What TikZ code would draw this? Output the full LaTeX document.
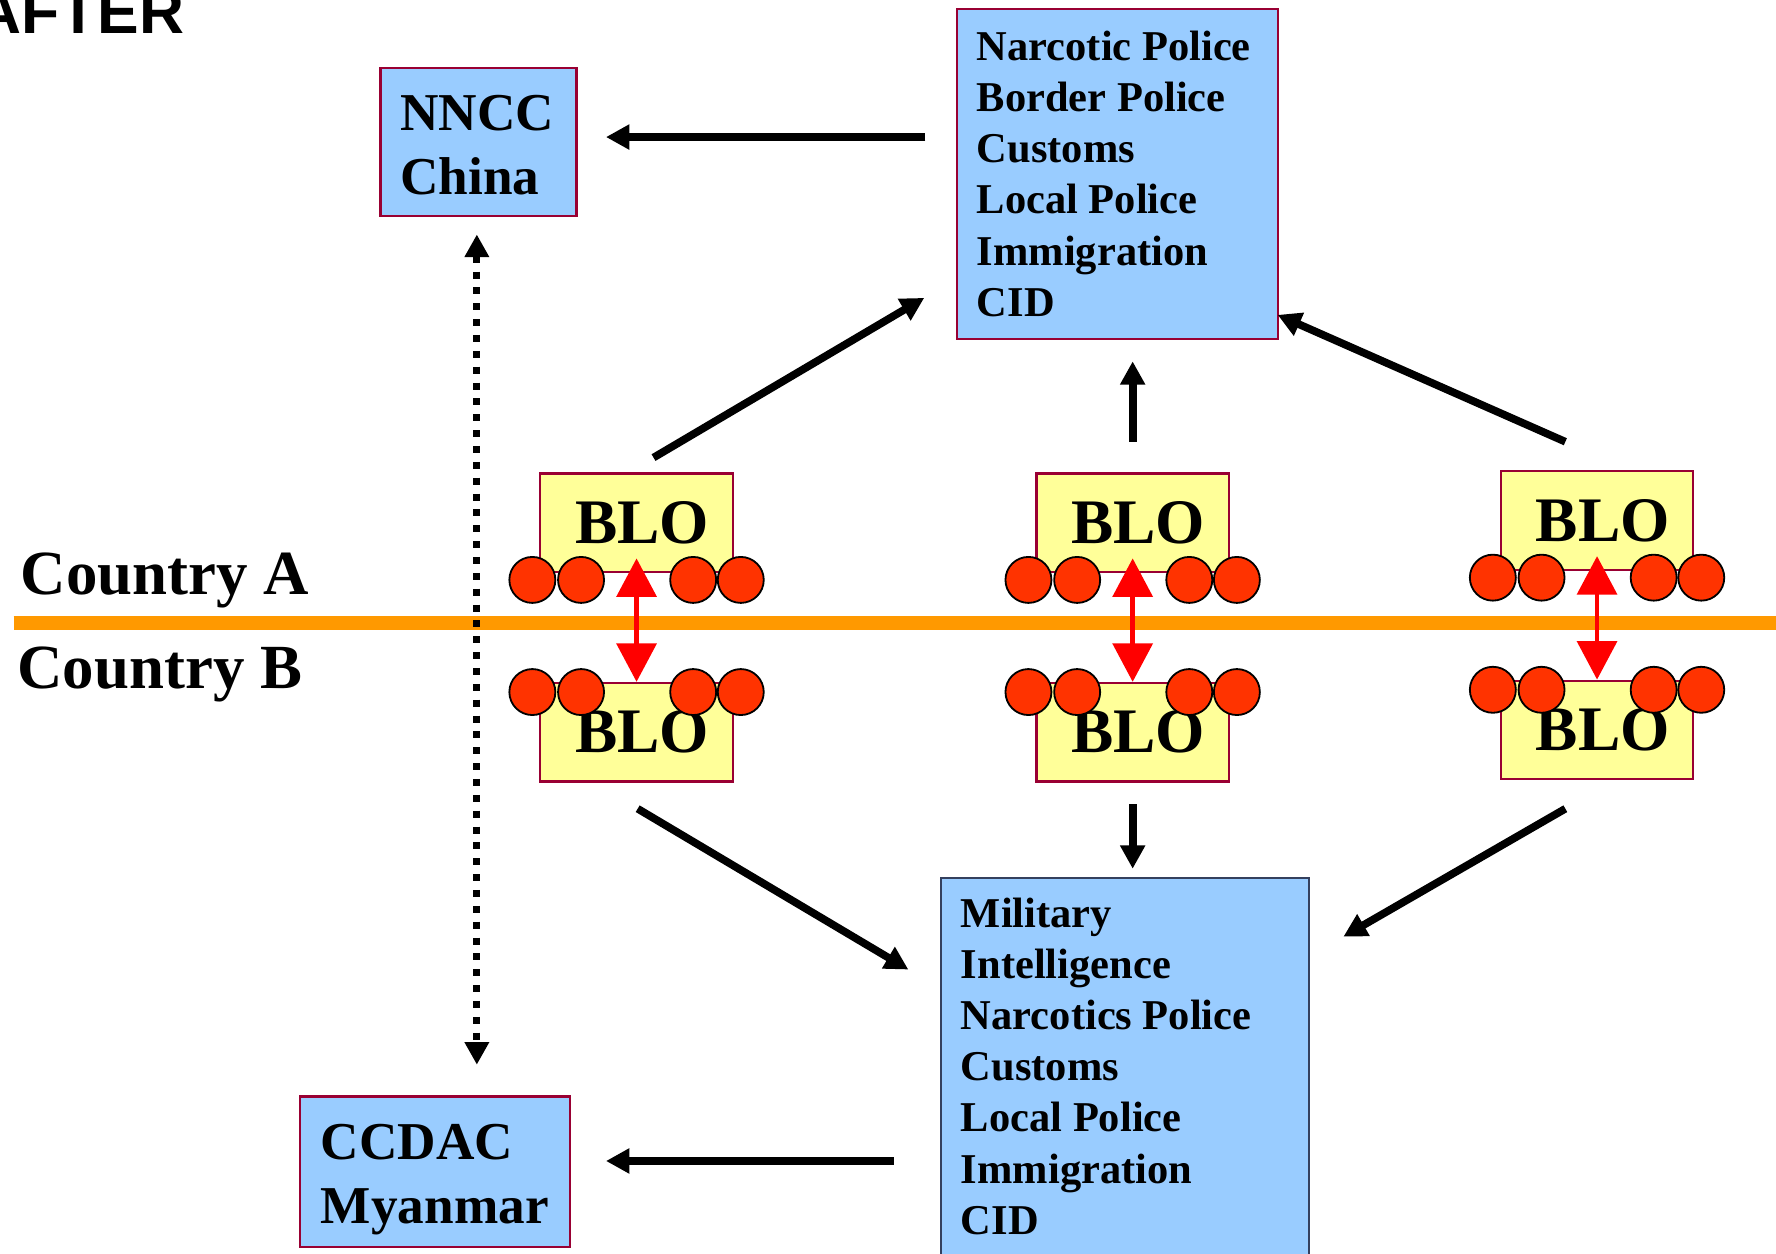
\documentclass[tikz,border=0pt]{standalone}
\usepackage{fontspec}
\setmainfont{Liberation Serif}
\newfontfamily\afterfont{Liberation Sans}
\usetikzlibrary{arrows.meta,fit,calc}
\definecolor{boxblue}{HTML}{99CCFF}
\definecolor{bloyellow}{HTML}{FFFF99}
\definecolor{maroon}{HTML}{990033}
\definecolor{slateedge}{HTML}{34405E}
\definecolor{borderorange}{HTML}{FF9900}
\definecolor{beadred}{HTML}{FF3300}
\definecolor{arrred}{HTML}{FF0000}
\tikzset{
  bluebox/.style={draw=maroon, line width=1pt, fill=boxblue, inner sep=0pt},
  lowbluebox/.style={draw=slateedge, line width=0.8pt, fill=boxblue, inner sep=0pt},
  blobox/.style={rectangle, draw=maroon, line width=1pt, fill=bloyellow, inner sep=0pt,
    minimum width=85pt, minimum height=43.5pt,
    font=\bfseries\fontsize{28pt}{33pt}\selectfont},
  bead/.style={circle, draw=black, line width=0.8pt, fill=beadred,
    minimum size=20.3pt, inner sep=0pt},
  arr/.style={line width=3.4pt, -{Triangle[length=10.3pt,width=10.5pt]}},
  redarr/.style={draw=arrred, line width=2pt,
    {Triangle[length=17pt,width=17.5pt]}-{Triangle[length=17pt,width=17.5pt]}},
  dotarr/.style={line width=3.1pt, dash pattern=on 3.1pt off 3.9pt,
    {Triangle[length=10pt,width=10.3pt]}-{Triangle[length=10pt,width=10.3pt]}},
  borderline/.style={draw=borderorange, line width=6.5pt},
  listtext/.style={anchor=base west, inner sep=0pt,
    font=\bfseries\fontsize{18.75pt}{22.55pt}\selectfont},
  bigtext/.style={anchor=base west, inner sep=0pt,
    font=\bfseries\fontsize{23.5pt}{28.25pt}\selectfont},
  countrytext/.style={anchor=base west, inner sep=0pt,
    font=\bfseries\fontsize{27.75pt}{33pt}\selectfont},
}
\begin{document}
\begin{tikzpicture}[x=0.5pt,y=-0.5pt]
\clip (0,0) rectangle (1568,1107);
\fill[white] (0,0) rectangle (1568,1107);

% title
\node[anchor=base east, inner sep=0pt,
  font=\afterfont\bfseries\fontsize{27.5pt}{30pt}\selectfont] (after) at (163,30) {AFTER};

% border between countries
\draw[borderline] (12,550) -- (1568,550);
\node[countrytext] (cA) at (18,525) {Country A};
\node[countrytext] (cB) at (15,608) {Country B};

% agency boxes
\node[bluebox, fit={(336,60) (509,191)}] (nncc) {};
\node[bigtext] (nnccT) at (353,115) {\begin{tabular}[t]{@{}l@{}}NNCC\\China\end{tabular}};

\node[bluebox, fit={(845,8) (1128,299)}] (topbox) {};
\node[listtext] (topT) at (862,53.6) {\begin{tabular}[t]{@{}l@{}}Narcotic Police\\Border Police\\Customs\\Local Police\\Immigration\\CID\end{tabular}};

\node[lowbluebox, fit={(831,775) (1156,1130)}] (lowbox) {};
\node[listtext] (lowT) at (848,819) {\begin{tabular}[t]{@{}l@{}}Military\\Intelligence\\Narcotics Police\\Customs\\Local Police\\Immigration\\CID\end{tabular}};

\node[bluebox, fit={(265,968) (503,1101)}] (ccdac) {};
\node[bigtext] (ccdacT) at (283,1024) {\begin{tabular}[t]{@{}l@{}}CCDAC\\Myanmar\end{tabular}};

% BLO pairs
\foreach \i/\dx/\dy in {1/0/0, 2/438/0, 3/848/-2}{
  \node[blobox] (bloT\i) at ({562+\dx},{461.5+\dy}) {\hspace*{5pt}BLO};
  \node[blobox] (bloB\i) at ({562+\dx},{646.5+\dy}) {\hspace*{5pt}BLO};
  \foreach \k/\cx in {a/470, b/513, c/612, d/654}{
    \node[bead] (bt\i\k) at ({\cx+\dx},{512+\dy}) {};
    \node[bead] (bb\i\k) at ({\cx+\dx},{611+\dy}) {};
  }
  \draw[redarr, shorten <=-6.5pt] (bloT\i.south) -- (bloB\i.north);
}

% connector end points
\coordinate (a1s) at (817,121);  \coordinate (a1e) at (535,121);
\coordinate (a2s) at (577,404);  \coordinate (a2e) at (816,263);
\coordinate (a3s) at (1000,390); \coordinate (a3e) at (1000,319);
\coordinate (a4s) at (1382,390); \coordinate (a4e) at (1128,278);
\coordinate (a5s) at (563,714);  \coordinate (a5e) at (802,856);
\coordinate (a6s) at (1000,710); \coordinate (a6e) at (1000,767);
\coordinate (a7s) at (1382,714); \coordinate (a7e) at (1186,827);
\coordinate (a8s) at (789,1025); \coordinate (a8e) at (535,1025);
\coordinate (dotTop) at (421,207); \coordinate (dotBot) at (421,940);

\draw[arr] (a1s) -- (a1e);
\draw[arr] (a2s) -- (a2e);
\draw[arr] (a3s) -- (a3e);
\draw[arr] (a4s) -- (a4e);
\draw[arr] (a5s) -- (a5e);
\draw[arr] (a6s) -- (a6e);
\draw[arr] (a7s) -- (a7e);
\draw[arr] (a8s) -- (a8e);
\draw[dotarr] (dotTop) -- (dotBot);
\end{tikzpicture}
\end{document}
